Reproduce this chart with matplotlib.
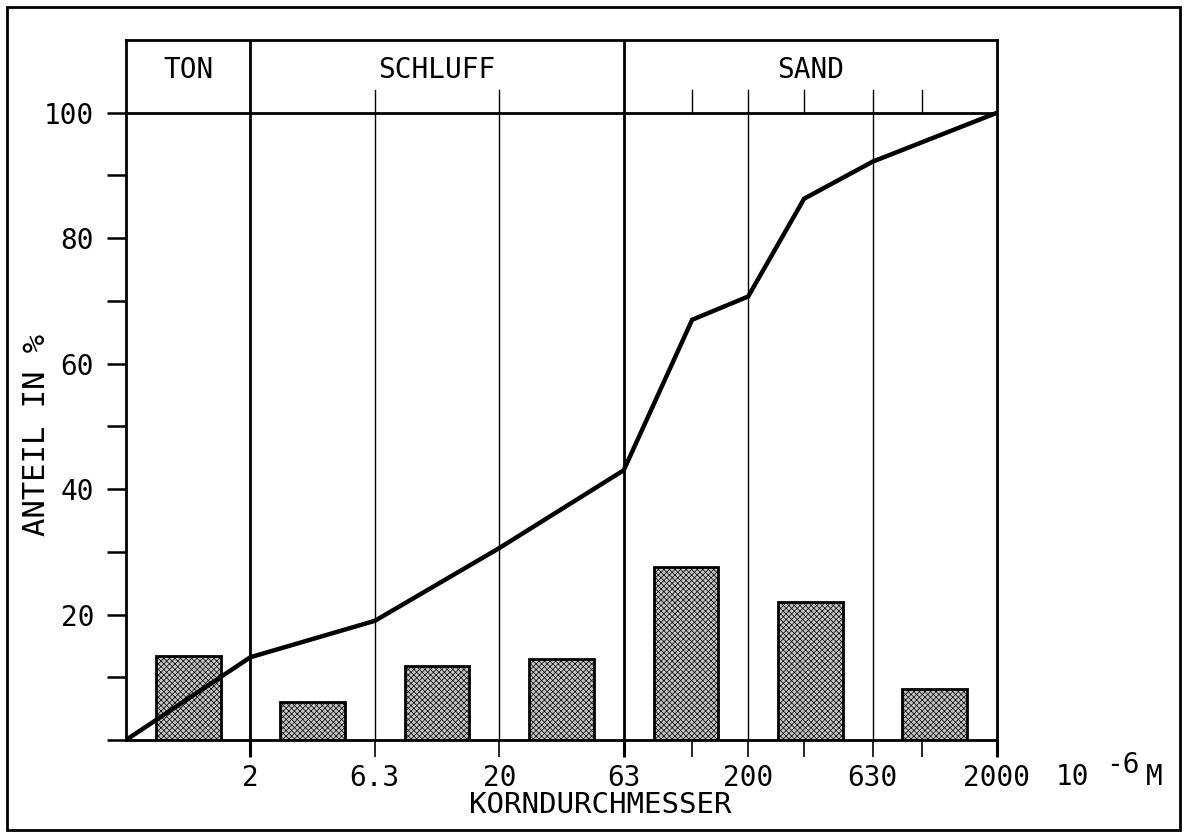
import matplotlib.pyplot as plt
from matplotlib.patches import Rectangle

plt.rcParams['font.family'] = ['DejaVu Sans Mono', 'DejaVu Sans']
plt.rcParams['hatch.color'] = '#555555'
plt.rcParams['hatch.linewidth'] = 0.5

# grain size classes (log steps) and readings
tick_labels = ["2", "6.3", "20", "63", "200", "630", "2000"]
tick_pos = [1, 2, 3, 4, 5, 6, 7]
bar_pos = [0.5, 1.5, 2.5, 3.5, 4.5, 5.5, 6.5]
bar_vals = [13.4, 6.0, 11.8, 12.9, 27.6, 22.0, 8.1]
# cumulative curve
curve_x = [0, 1, 2, 3, 4, 4.55, 5, 5.45, 6, 7]
curve_y = [0, 13.2, 19.0, 30.6, 43.0, 67.0, 70.7, 86.3, 92.2, 100]
minor_pos = [4.55, 5.45, 6.4]
classes = ["TON", "SCHLUFF", "SAND"]
class_x = [0.5, 2.5, 5.5]

fig = plt.figure(figsize=(11.84, 8.33), dpi=100)
ax = fig.add_axes([126/1184, 1-740/833, (997-126)/1184, (740-40)/833])
ytop = 111.6
ax.set_xlim(0, 7)
ax.set_ylim(0, ytop)

ax.bar(bar_pos, bar_vals, width=0.52, facecolor='#c4c4c4', edgecolor='black',
       linewidth=2, hatch='xxxxxx', zorder=2)
ax.plot(curve_x, curve_y, color='black', lw=3.2, zorder=3, solid_joinstyle='miter')

# class boundaries
for x in [1, 4]:
    ax.plot([x, x], [0, ytop], color='black', lw=2, zorder=1)
for x in [2, 3, 5, 6]:
    ax.plot([x, x], [0, 103.7], color='black', lw=1, zorder=1)
for x in minor_pos:
    ax.plot([x, x], [100, 103.7], color='black', lw=1, zorder=1)
ax.axhline(100, color='black', lw=2)

for name, x in zip(classes, class_x):
    ax.text(x, 106.8, name, ha='center', va='center', fontsize=20)

for s in ax.spines.values():
    s.set_linewidth(2)

ax.set_yticks(range(0, 101, 10))
ax.set_yticklabels(["" if v % 20 or v == 0 else str(v) for v in range(0, 101, 10)])
ax.tick_params(axis='y', direction='out', length=14, width=1.8, pad=9, labelsize=20)
ax.set_xticks(tick_pos)
ax.set_xticklabels(tick_labels)
ax.set_xticks(minor_pos, minor=True)
ax.tick_params(axis='x', which='major', direction='out', length=12, width=1.2, pad=5, labelsize=20)
ax.tick_params(axis='x', which='minor', direction='out', length=12, width=1.2)
for t in ax.xaxis.get_major_ticks():
    if t.get_loc() in (1, 4, 7):
        t.tick1line.set_markeredgewidth(2.2)

# unit 10^-6 M
fig.text(1056/1184, 1-777/833, "10", fontsize=20, va='center', ha='left')
fig.text(1106/1184, 1-765/833, "-6", fontsize=20, va='center', ha='left')
fig.text(1146/1184, 1-777/833, "M", fontsize=20, va='center', ha='left')
fig.text(600/1184, 1-805/833, "KORNDURCHMESSER", fontsize=21, ha='center', va='center')
fig.text(37/1184, 1-435/833, "ANTEIL IN %", fontsize=22, rotation=90, ha='center', va='center')

fig.patches.append(Rectangle((7/1184, 3/833), (1180-7)/1184, (826-3)/833, transform=fig.transFigure,
                             fill=False, edgecolor='black', lw=2))

fig.savefig("out.png", dpi=100)
